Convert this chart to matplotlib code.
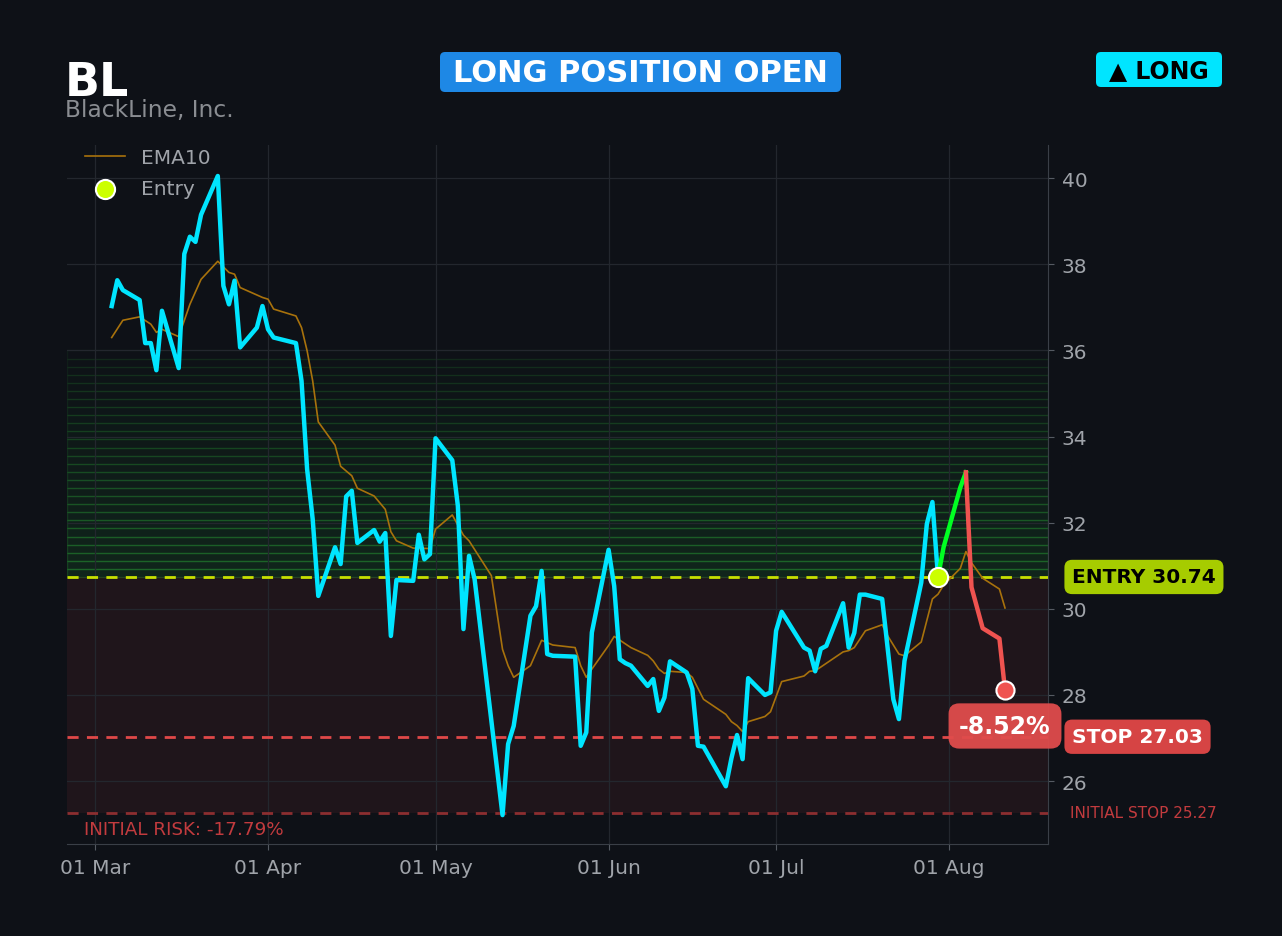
import matplotlib
matplotlib.use('Agg')
import matplotlib.pyplot as plt
import matplotlib.dates as mdates
import matplotlib.transforms as mtransforms
from matplotlib.patches import FancyBboxPatch
import numpy as np
import pandas as pd

YEAR = 2026

# closing prices (month-day, value)
price_days = ['03-04', '03-05', '03-06', '03-09', '03-10', '03-11', '03-12', '03-13',
              '03-16', '03-17', '03-18', '03-19', '03-20', '03-23', '03-24', '03-25',
              '03-26', '03-27', '03-30', '03-31', '04-01', '04-02', '04-06', '04-07',
              '04-08', '04-09', '04-10', '04-13', '04-14', '04-15', '04-16', '04-17',
              '04-20', '04-21', '04-22', '04-23', '04-24', '04-27', '04-28', '04-29',
              '04-30', '05-01', '05-04', '05-05', '05-06', '05-07', '05-08', '05-13',
              '05-14', '05-15', '05-18', '05-19', '05-20', '05-21', '05-22', '05-26',
              '05-27', '05-28', '05-29', '06-01', '06-02', '06-03', '06-04', '06-05',
              '06-08', '06-09', '06-10', '06-11', '06-12', '06-15', '06-16', '06-17',
              '06-18', '06-22', '06-23', '06-24', '06-25', '06-26', '06-29', '06-30',
              '07-01', '07-02', '07-06', '07-07', '07-08', '07-09', '07-10', '07-13',
              '07-14', '07-15', '07-16', '07-17', '07-20', '07-22', '07-23', '07-24',
              '07-27', '07-28', '07-29', '07-30', '07-31', '08-03', '08-04', '08-05',
              '08-07', '08-10', '08-11']
price_vals = [37.03, 37.63, 37.40, 37.17, 36.17, 36.17, 35.54, 36.92,
              35.59, 38.24, 38.64, 38.52, 39.15, 40.05, 37.50, 37.07,
              37.62, 36.07, 36.53, 37.03, 36.49, 36.30, 36.17, 35.29,
              33.24, 32.08, 30.30, 31.43, 31.04, 32.61, 32.74, 31.53,
              31.83, 31.56, 31.76, 29.37, 30.67, 30.65, 31.72, 31.15,
              31.27, 33.96, 33.45, 32.39, 29.53, 31.23, 30.69, 25.21,
              26.86, 27.28, 29.84, 30.06, 30.88, 28.95, 28.91, 28.89,
              26.82, 27.13, 29.45, 31.37, 30.53, 28.83, 28.74, 28.68,
              28.21, 28.37, 27.63, 27.94, 28.78, 28.52, 28.14, 26.82,
              26.80, 25.88, 26.53, 27.07, 26.51, 28.39, 28.00, 28.06,
              29.49, 29.93, 29.10, 29.03, 28.55, 29.07, 29.14, 30.13,
              29.10, 29.44, 30.33, 30.33, 30.23, 27.90, 27.44, 28.79,
              30.61, 31.97, 32.48, 30.74, 31.43, 32.82, 33.17, 30.50,
              29.55, 29.31, 28.12]

ema_days = ['03-04', '03-06', '03-09', '03-11', '03-12', '03-13', '03-16', '03-18',
            '03-20', '03-23', '03-24', '03-25', '03-26', '03-27', '03-31', '04-01',
            '04-02', '04-06', '04-07', '04-08', '04-09', '04-10', '04-13', '04-14',
            '04-16', '04-17', '04-20', '04-22', '04-23', '04-24', '04-27', '04-30',
            '05-01', '05-04', '05-06', '05-07', '05-11', '05-13', '05-14', '05-15',
            '05-18', '05-20', '05-22', '05-26', '05-27', '05-28', '05-29', '06-01',
            '06-02', '06-05', '06-08', '06-09', '06-10', '06-11', '06-12', '06-15',
            '06-16', '06-18', '06-22', '06-23', '06-24', '06-25', '06-26', '06-29',
            '06-30', '07-02', '07-06', '07-07', '07-08', '07-13', '07-14', '07-15',
            '07-17', '07-20', '07-21', '07-23', '07-24', '07-27', '07-29', '07-30',
            '07-31', '08-03', '08-04', '08-05', '08-07', '08-10', '08-11']
ema_vals = [36.30, 36.70, 36.78, 36.61, 36.42, 36.49, 36.32, 37.07,
            37.65, 38.07, 37.94, 37.81, 37.77, 37.46, 37.23, 37.19,
            36.96, 36.80, 36.53, 35.99, 35.29, 34.34, 33.80, 33.31,
            33.09, 32.80, 32.62, 32.31, 31.79, 31.58, 31.41, 31.40,
            31.85, 32.18, 31.71, 31.58, 30.77, 29.06, 28.68, 28.41,
            28.68, 29.27, 29.16, 29.10, 28.68, 28.41, 28.60, 29.15,
            29.36, 29.10, 28.92, 28.79, 28.60, 28.50, 28.55, 28.52,
            28.41, 27.90, 27.55, 27.38, 27.29, 27.15, 27.38, 27.50,
            27.61, 28.31, 28.44, 28.55, 28.56, 29.00, 29.03, 29.10,
            29.49, 29.63, 29.37, 28.95, 28.91, 29.23, 30.23, 30.34,
            30.55, 30.94, 31.33, 31.07, 30.71, 30.46, 30.02]

ticker = 'BL'
company = 'BlackLine, Inc.'
entry_day = '07-30'
peak_day = '08-04'
entry_price = 30.74
stop_price = 27.03
initial_stop = 25.27
zone_top = 36.0

BG = '#0e1117'
CYAN = '#00e5ff'
GREEN = '#00ff22'
RED = '#ef5350'
EMA_C = '#a8720c'
ENTRY_C = '#ccff00'
GREY = '#a0a4aa'
W, H = 1282, 937

def to_dates(days):
    return pd.to_datetime([f'{YEAR}-{d}' for d in days])

def pixbox(x0, y0, x1, y1, color):
    # rounded box given in output pixels (top-left origin)
    p = FancyBboxPatch((x0, H - y1), x1 - x0, y1 - y0,
                       boxstyle='round,pad=0,rounding_size=5', fc=color, ec='none',
                       transform=mtransforms.IdentityTransform())
    fig.add_artist(p)

px = pd.Series(price_vals, index=to_dates(price_days))
ema = pd.Series(ema_vals, index=to_dates(ema_days))
t_entry = pd.Timestamp(f'{YEAR}-{entry_day}')
t_peak = pd.Timestamp(f'{YEAR}-{peak_day}')

fig = plt.figure(figsize=(W / 100, H / 100), dpi=100, facecolor=BG)
ax = fig.add_axes([0.0523, 0.0982, 0.7652, 0.7460], facecolor=BG)

# zones
n = 28
edges = np.linspace(entry_price, zone_top, n + 1)
for i in range(n):
    a = 1 - i / n
    ax.axhspan(edges[i], edges[i + 1], facecolor=(0.15, 0.85, 0.25, 0.10 * a),
               edgecolor=(0.2, 0.8, 0.25, 0.06 + 0.16 * a), lw=1.0, zorder=0)
ax.axhspan(initial_stop, entry_price, facecolor='#ff4a5a', alpha=0.075, lw=0, zorder=0)

ax.axhline(entry_price, color='#c8e000', lw=2, ls=(0, (4, 3)), zorder=3)
ax.axhline(stop_price, color='#e04848', lw=2, ls=(0, (4, 3)), zorder=3)
ax.axhline(initial_stop, color='#8c2e30', lw=2, ls=(0, (4, 3)), zorder=3)

# price
pre = px[px.index <= t_entry]
run = px[(px.index >= t_entry) & (px.index <= t_peak)]
post = px[px.index >= t_peak]
ax.plot(ema.index, ema.values, color=EMA_C, lw=1.2, zorder=4, label='EMA10')
ax.plot(pre.index, pre.values, color=CYAN, lw=3.2, zorder=5)
ax.plot(run.index, run.values, color=GREEN, lw=3.2, zorder=5)
ax.plot(post.index, post.values, color=RED, lw=3.2, zorder=5)
ax.scatter([t_entry], [entry_price], s=190, color=ENTRY_C, edgecolor='white',
           linewidth=1.5, zorder=7, label='Entry')
ax.scatter([px.index[-1]], [px.values[-1]], s=170, color=RED, edgecolor='white',
           linewidth=1.5, zorder=7)

ax.set_xlim(pd.Timestamp(f'{YEAR}-02-24'), pd.Timestamp(f'{YEAR}-08-18 17:00'))
ax.set_ylim(24.54, 40.77)

ax.xaxis.set_major_locator(mdates.MonthLocator())
ax.xaxis.set_major_formatter(mdates.DateFormatter('%d %b'))
ax.yaxis.tick_right()
ax.set_yticks(range(26, 41, 2))
ax.tick_params(colors='#555a62', labelcolor=GREY, labelsize=14.5, length=4)
ax.tick_params(axis='y', pad=6)
ax.tick_params(axis='x', pad=6)
ax.grid(True, color='#23272e', lw=0.9)
ax.set_axisbelow(True)
for s in ['top', 'left']:
    ax.spines[s].set_visible(False)
for s in ['right', 'bottom']:
    ax.spines[s].set_color('#3a3f47')

leg = ax.legend(loc='upper left', frameon=False, fontsize=14.5, labelcolor=GREY,
                handlelength=2.0, borderaxespad=0.0, labelspacing=0.58,
                bbox_to_anchor=(0.010, 1.007))

# right side labels
tr = mtransforms.blended_transform_factory(ax.transAxes, ax.transData)
ax.text(1.0245, entry_price, f'ENTRY {entry_price:.2f}', transform=tr, ha='left', va='center',
        fontsize=14.5, fontweight='bold', color='black', clip_on=False,
        bbox=dict(boxstyle='round,pad=0.38', fc='#a6cc00', ec='none'))
ax.text(1.0245, stop_price, f'STOP {stop_price:.2f}', transform=tr, ha='left', va='center',
        fontsize=14.5, fontweight='bold', color='white', clip_on=False,
        bbox=dict(boxstyle='round,pad=0.38', fc='#d64444', ec='none'))
ax.text(1.022, initial_stop, f'INITIAL STOP {initial_stop:.2f}', transform=tr, ha='left',
        va='center', fontsize=11, color='#c23b3e', clip_on=False)

pnl = (px.values[-1] - entry_price) / entry_price * 100
ax.text(px.index[-1], 27.28, f'{pnl:.2f}%', ha='center', va='center', fontsize=17,
        fontweight='bold', color='white', zorder=8, clip_on=False,
        bbox=dict(boxstyle='round,pad=0.45', fc='#e04c4c', ec='none', alpha=0.95))

risk = (initial_stop - entry_price) / entry_price * 100
ax.text(0.0173, 0.0215, f'INITIAL RISK: {risk:.2f}%', transform=ax.transAxes, ha='left',
        va='center', fontsize=13.2, color='#c23b3e')

# header
fig.text(65 / W, 1 - 96 / H, ticker, fontsize=33, fontweight='bold', color='white',
         ha='left', va='baseline')
fig.text(65 / W, 1 - 117 / H, company, fontsize=16.8, color='#8a8d92',
         ha='left', va='baseline')
pixbox(440, 53, 841, 93, '#1e88e5')
fig.text(640 / W, 1 - 73 / H, 'LONG POSITION OPEN', fontsize=22, fontweight='bold',
         color='white', ha='center', va='center')
pixbox(1096, 53, 1222, 88, '#00e5ff')
fig.text(1159 / W, 1 - 71 / H, '▲ LONG', fontsize=17, fontweight='bold',
         color='black', ha='center', va='center')

fig.savefig('out.png', dpi=100, facecolor=BG)
